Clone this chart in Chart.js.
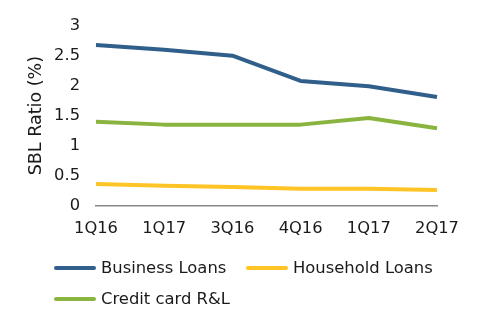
<!DOCTYPE html>
<html>
<head>
<meta charset="utf-8">
<script src="https://cdn.jsdelivr.net/npm/chart.js@4/dist/chart.umd.min.js"></script>
<style>
  html, body { margin: 0; padding: 0; background: #fff; }
  #wrap { position: relative; width: 481px; height: 325px; }
  #sblChart { position: absolute; left: 0; top: 0; }
  #legend {
    position: absolute; left: 54px; top: 256px;
    display: grid; grid-template-columns: 192px 200px; row-gap: 8px;
    font-family: 'DejaVu Sans', Verdana, sans-serif; font-size: 16.4px; color: #1a1a1a;
  }
  .item { display: flex; align-items: center; height: 23px; white-space: nowrap; }
  .swatch { width: 42px; height: 4px; border-radius: 2px; margin-right: 5px; }
</style>
</head>
<body>
<div id="wrap">
  <canvas id="sblChart" width="481" height="325"></canvas>
  <div id="legend"></div>
</div>
<script>
const quarters = ['1Q16', '1Q17', '3Q16', '4Q16', '1Q17', '2Q17'];
const businessLoans = [2.68, 2.60, 2.50, 2.08, 1.99, 1.81];
const householdLoans = [0.36, 0.33, 0.31, 0.28, 0.28, 0.26];
const creditCardRL = [1.40, 1.35, 1.35, 1.35, 1.46, 1.29];

const seriesNames = ['Business Loans', 'Household Loans', 'Credit card R&L'];
const seriesColors = ['#2f5f8a', '#ffc425', '#8ab440'];
const seriesData = [businessLoans, householdLoans, creditCardRL];

const fontFamily = "'DejaVu Sans', Verdana, sans-serif";
const textColor = '#1a1a1a';

const ctx = document.getElementById('sblChart').getContext('2d');
new Chart(ctx, {
    type: 'line',
    data: {
        labels: quarters,
        datasets: seriesNames.map((name, i) => ({
            label: name,
            data: seriesData[i],
            borderColor: seriesColors[i],
            backgroundColor: seriesColors[i],
            borderWidth: 4,
            borderJoinStyle: 'round',
            pointRadius: 0,
            tension: 0
        }))
    },
    options: {
        responsive: false,
        animation: false,
        layout: { padding: { top: 24, right: 44, bottom: 85, left: 0 } },
        plugins: {
            legend: { display: false },
            tooltip: { enabled: false }
        },
        scales: {
            x: {
                offset: false,
                grid: { display: false, drawTicks: false },
                border: { display: true, color: '#888888', width: 1.5 },
                ticks: { color: textColor, font: { family: fontFamily, size: 16.3 }, padding: 13, maxRotation: 0, autoSkip: false },
                afterFit: scale => { scale.height = 34.5; }
            },
            y: {
                min: 0,
                max: 3,
                grid: { display: false, drawTicks: false },
                border: { display: false },
                ticks: {
                    stepSize: 0.5,
                    color: textColor,
                    font: { family: fontFamily, size: 16.3 },
                    padding: 16,
                    callback: v => String(v)
                },
                title: {
                    display: true,
                    text: 'SBL Ratio (%)',
                    color: textColor,
                    font: { family: fontFamily, size: 17.5 },
                    padding: { top: 26, bottom: 0 }
                },
                afterFit: scale => { scale.width = 96; }
            }
        }
    }
});

// legend laid out as a two-column grid under the chart
const legendEl = document.getElementById('legend');
seriesNames.forEach((name, i) => {
    const item = document.createElement('div');
    item.className = 'item';
    const sw = document.createElement('span');
    sw.className = 'swatch';
    sw.style.background = seriesColors[i];
    const txt = document.createElement('span');
    txt.textContent = name;
    item.appendChild(sw);
    item.appendChild(txt);
    legendEl.appendChild(item);
});
</script>
</body>
</html>
